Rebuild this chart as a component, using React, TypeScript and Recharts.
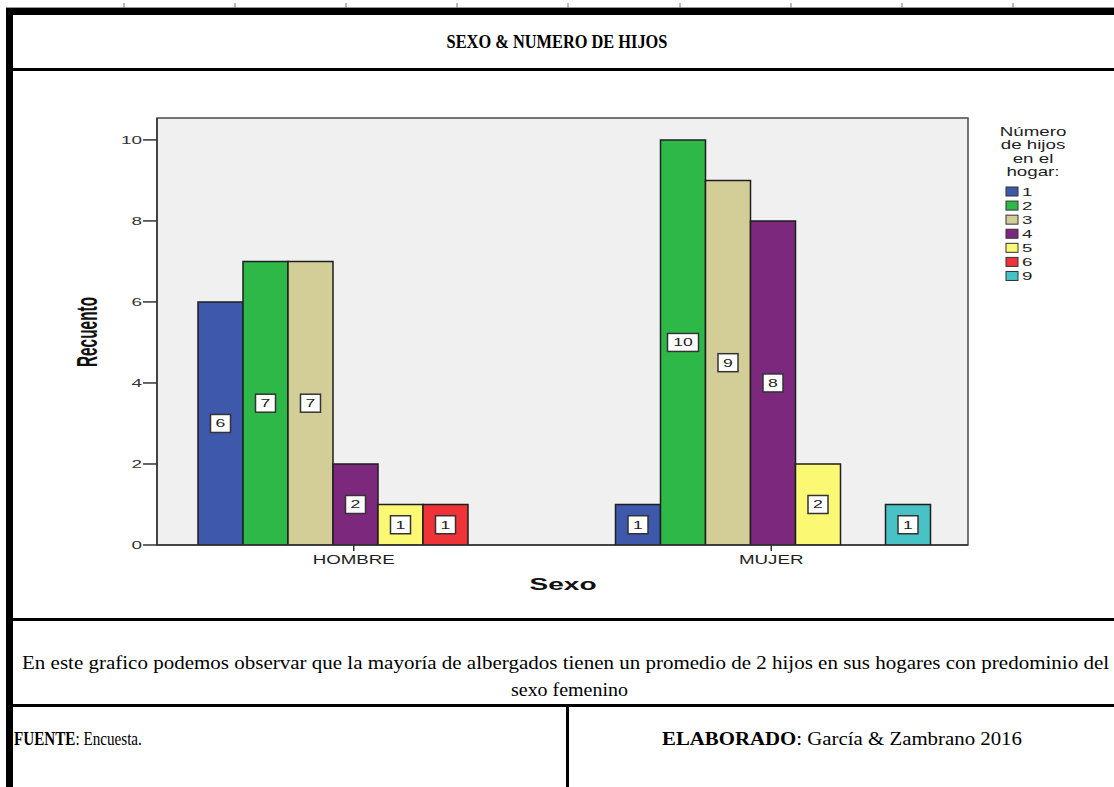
import React, { useLayoutEffect, useRef, useState } from "react";
import { BarChart, Bar, XAxis, YAxis, LabelList } from "recharts";

// ─── Data ─────────────────────────────────────────────────────────────────────

const categories = ["HOMBRE", "MUJER"];
const seriesNames = ["1", "2", "3", "4", "5", "6", "9"];
const hijos1 = [6, 1];
const hijos2 = [7, 10];
const hijos3 = [7, 9];
const hijos4 = [2, 8];
const hijos5 = [1, 2];
const hijos6 = [1, null];
const hijos9 = [null, 1];
const yTicks = [0, 2, 4, 6, 8, 10];
const legendTitle = ["Número", "de hijos", "en el", "hogar:"];

const SERIES = [hijos1, hijos2, hijos3, hijos4, hijos5, hijos6, hijos9];
const COLORS = ["#3E58AC", "#2EB848", "#D3CE97", "#7C287D", "#FBF873", "#EF3338", "#48C2C5"];

const data = categories.map((sexo, i) => {
  const row: Record<string, string | number | null> = { sexo };
  seriesNames.forEach((n, k) => {
    row[`h${n}`] = SERIES[k][i];
  });
  return row;
});

// ─── Constants ────────────────────────────────────────────────────────────────

const SANS = "Arial, 'Liberation Sans', sans-serif";
const SERIF = "'Times New Roman', 'Liberation Serif', serif";
const PLOT = { left: 157, top: 118, right: 968, bottom: 545 };
const TOP_MARKS = [124, 235, 346, 457, 568, 680, 791, 902, 1013];

// ─── Helpers ──────────────────────────────────────────────────────────────────

// Serif text squeezed/stretched horizontally to a given width (the sheet is scaled)
function FitText({ x, y, width, anchor = "start", size, bold, children }: any) {
  const ref = useRef<SVGTextElement>(null);
  const [k, setK] = useState(1);
  useLayoutEffect(() => {
    const w = ref.current?.getComputedTextLength() ?? 0;
    if (w > 0) setK(width / w);
  }, [width]);
  return (
    <text
      ref={ref}
      transform={`translate(${x},${y}) scale(${k},1)`}
      textAnchor={anchor}
      fontFamily={SERIF}
      fontSize={size}
      fontWeight={bold ? "bold" : "normal"}
      fill="#000"
    >
      {children}
    </text>
  );
}

// ─── Chart pieces ─────────────────────────────────────────────────────────────

function ValueBox(props: any) {
  const vb = props.viewBox ?? props;
  const { x, y, width, height } = vb;
  const value = props.value;
  if (value == null || x == null) return null;
  const s = String(value);
  const w = s.length > 1 ? 31 : 20;
  const h = 18;
  const cx = x + width / 2;
  const cy = y + height / 2;
  return (
    <g>
      <rect x={cx - w / 2} y={cy - h / 2} width={w} height={h} fill="#fff" stroke="#333" strokeWidth={1.5} />
      <text
        transform={`translate(${cx},${cy + 4}) scale(1.6,1)`}
        textAnchor="middle"
        fontFamily={SANS}
        fontSize={11}
        fill="#222"
      >
        {s}
      </text>
    </g>
  );
}

function XTick({ x, y, payload }: any) {
  return (
    <text
      transform={`translate(${x},${y + 11}) scale(1.5,1)`}
      textAnchor="middle"
      fontFamily={SANS}
      fontSize={12.5}
      fill="#222"
    >
      {payload.value}
    </text>
  );
}

function YTick({ x, y, payload }: any) {
  return (
    <text
      transform={`translate(${x},${y + 4}) scale(1.8,1)`}
      textAnchor="end"
      fontFamily={SANS}
      fontSize={10.5}
      fill="#333"
    >
      {payload.value}
    </text>
  );
}

function YLabel() {
  return (
    <text
      transform="translate(97,332) rotate(-90) scale(1,1.9)"
      textAnchor="middle"
      fontFamily={SANS}
      fontWeight="bold"
      fontSize={15.4}
      fill="#111"
    >
      Recuento
    </text>
  );
}

function XLabel() {
  return (
    <text
      transform="translate(563,590) scale(1.7,1)"
      textAnchor="middle"
      fontFamily={SANS}
      fontWeight="bold"
      fontSize={16.5}
      fill="#111"
    >
      Sexo
    </text>
  );
}

// ─── Page ─────────────────────────────────────────────────────────────────────

export default function App() {
  return (
    <div style={{ position: "absolute", left: 0, top: 0, width: 1114, height: 787, background: "#fff", overflow: "hidden" }}>
      {/* Spreadsheet frame, plot background, legend and texts */}
      <svg width={1114} height={787} style={{ position: "absolute", left: 0, top: 0 }}>
        <line x1={6} y1={7.5} x2={1114} y2={7.5} stroke="#999" strokeWidth={1} />
        {TOP_MARKS.map((mx) => (
          <line key={mx} x1={mx} y1={3} x2={mx} y2={8} stroke="#777" strokeWidth={1} />
        ))}
        <rect x={6} y={8} width={1108} height={7} fill="#000" />
        <rect x={6} y={8} width={7} height={779} fill="#000" />
        <rect x={6} y={68} width={1108} height={3} fill="#000" />
        <rect x={6} y={618} width={1108} height={3} fill="#000" />
        <rect x={6} y={704} width={1108} height={3} fill="#000" />
        <rect x={566} y={704} width={3} height={83} fill="#000" />

        <FitText x={557} y={48} width={221} anchor="middle" size={18.5} bold>
          SEXO &amp; NUMERO DE HIJOS
        </FitText>

        <rect
          x={PLOT.left}
          y={PLOT.top}
          width={PLOT.right - PLOT.left}
          height={PLOT.bottom - PLOT.top}
          fill="#f0f0f0"
          stroke="#4a4a4a"
          strokeWidth={1.5}
        />

        {legendTitle.map((t, i) => (
          <text
            key={t}
            transform={`translate(1033,${135.5 + i * 13.6}) scale(1.5,1)`}
            textAnchor="middle"
            fontFamily={SANS}
            fontSize={12.5}
            fill="#222"
          >
            {t}
          </text>
        ))}
        {seriesNames.map((n, i) => (
          <g key={n}>
            <rect x={1006} y={187 + i * 14.08} width={12} height={9} fill={COLORS[i]} stroke="#333" strokeWidth={1} />
            <text transform={`translate(1022,${196 + i * 14.08}) scale(1.7,1)`} fontFamily={SANS} fontSize={11} fill="#222">
              {n}
            </text>
          </g>
        ))}

        <FitText x={22} y={669} width={1088} size={19}>
          En este grafico podemos observar que la mayoría de albergados tienen un promedio de 2 hijos en sus hogares con  predominio del
        </FitText>
        <FitText x={511} y={696} width={117} size={19}>
          sexo femenino
        </FitText>
        <FitText x={14} y={745} width={128} size={18}>
          <tspan fontWeight="bold">FUENTE</tspan>: Encuesta.
        </FitText>
        <FitText x={662} y={745} width={360} size={18}>
          <tspan fontWeight="bold">ELABORADO</tspan>: García &amp; Zambrano 2016
        </FitText>
      </svg>

      <div style={{ position: "absolute", left: 0, top: 0 }}>
        <BarChart
          width={1114}
          height={787}
          data={data}
          margin={{ top: PLOT.top, right: 1114 - PLOT.right, bottom: 212, left: PLOT.left - 60 }}
          barGap={0}
          barCategoryGap={53}
        >
          <XAxis
            dataKey="sexo"
            height={30}
            padding={{ left: -12, right: -12 }}
            tick={<XTick />}
            tickSize={6}
            tickMargin={2}
            tickLine={{ stroke: "#333", strokeWidth: 1.5 }}
            axisLine={{ stroke: "#333", strokeWidth: 1.5 }}
            label={<XLabel />}
          />
          <YAxis
            width={60}
            domain={[0, 10.54]}
            ticks={yTicks}
            interval={0}
            allowDataOverflow
            tick={<YTick />}
            tickSize={14}
            tickMargin={1}
            tickLine={{ stroke: "#333", strokeWidth: 1.5 }}
            axisLine={{ stroke: "#333", strokeWidth: 1.5 }}
            label={<YLabel />}
          />
          {seriesNames.map((n, i) => (
            <Bar
              key={n}
              dataKey={`h${n}`}
              name={n}
              fill={COLORS[i]}
              stroke="#1e1e1e"
              strokeWidth={1.5}
              isAnimationActive={false}
            >
              <LabelList dataKey={`h${n}`} content={<ValueBox />} />
            </Bar>
          ))}
        </BarChart>
      </div>
    </div>
  );
}
